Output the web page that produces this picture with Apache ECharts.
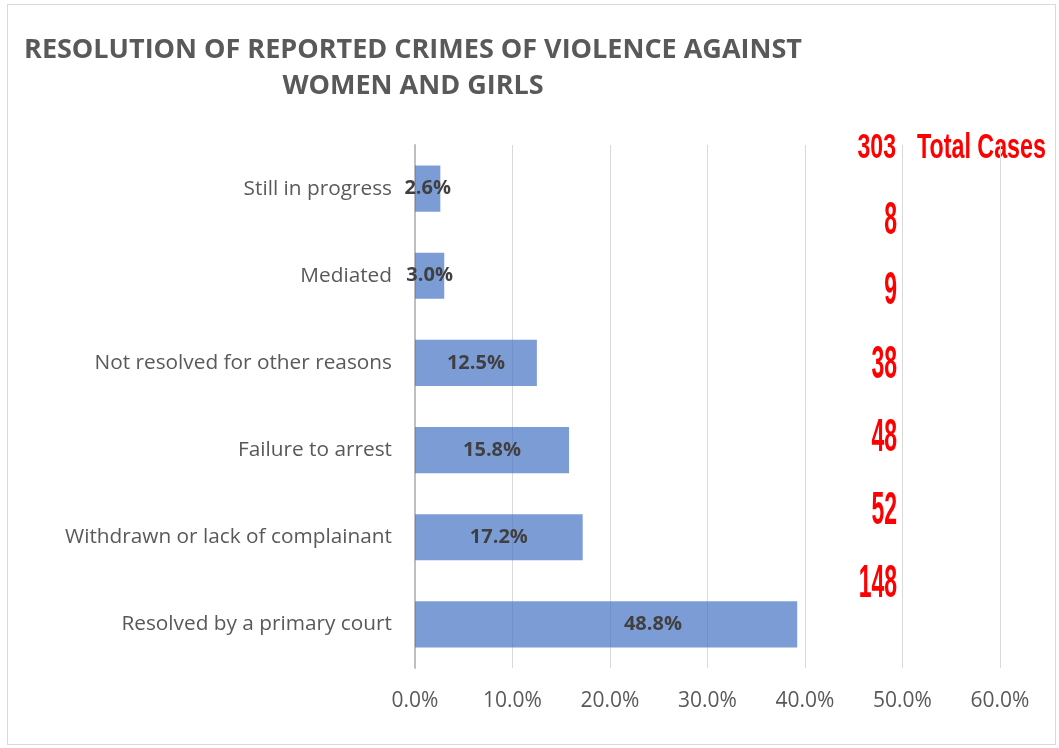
<!DOCTYPE html>
<html>
<head>
<meta charset="utf-8">
<script src="https://cdn.jsdelivr.net/npm/echarts@6/dist/echarts.min.js"></script>
<style>
html,body{margin:0;padding:0;background:#fff;}
#frame{position:absolute;left:7px;top:4px;width:1049px;height:741px;border:1px solid #d9d9d9;box-sizing:border-box;}
#chart{position:absolute;left:0;top:0;width:1059px;height:748px;}
</style>
</head>
<body>
<div id="frame"></div>
<div id="chart"></div>
<script>
// ---- data (bottom to top, as drawn) ----
const categories = ['Resolved by a primary court', 'Withdrawn or lack of complainant', 'Failure to arrest',
  'Not resolved for other reasons', 'Mediated', 'Still in progress'];
const caseCounts = [148, 52, 48, 38, 9, 8];
const totalCases = 303;
const shares = [48.8, 17.2, 15.8, 12.5, 3.0, 2.6];
// bar lengths as drawn in the picture (percent of axis); the largest bar is drawn cut short of its share
const barLengths = [39.2, 17.2, 15.8, 12.5, 3.0, 2.6];
const xTicks = [0, 10, 20, 30, 40, 50, 60];
const titleLines = ['RESOLUTION OF REPORTED CRIMES OF VIOLENCE AGAINST', 'WOMEN AND GIRLS'];
const totalLabel = 'Total Cases';

const chart = echarts.init(document.getElementById('chart'), null, {renderer: 'canvas'});

// red count annotations, top to bottom
const countYs = [221, 291, 365, 438, 511, 584];
const countsTopDown = caseCounts.slice().reverse();
const redFamily = '"Liberation Sans", Arial, sans-serif';
const graphics = [
  {type: 'text', x: 896, y: 148, scaleX: 0.66, style: {text: String(totalCases), fill: '#ff0000',
    font: 'bold 35px ' + redFamily, textAlign: 'right', textVerticalAlign: 'middle'}},
  {type: 'text', x: 917, y: 148, scaleX: 0.665, style: {text: totalLabel, fill: '#ff0000',
    font: 'bold 35px ' + redFamily, textAlign: 'left', textVerticalAlign: 'middle'}}
];
countsTopDown.forEach((c, i) => {
  graphics.push({type: 'text', x: 897, y: countYs[i], scaleX: 0.5,
    style: {text: String(c), fill: '#ff0000', font: 'bold 46px ' + redFamily, textAlign: 'right', textVerticalAlign: 'middle'}});
});

chart.setOption({
  animation: false,
  title: {
    text: titleLines.join('\n'),
    left: 408, top: 27, textAlign: 'center',
    textStyle: {fontFamily: '"Open Sans", sans-serif', fontWeight: 'bold', fontSize: 27, color: '#595959', lineHeight: 36}
  },
  grid: {left: 415, right: 59, top: 145, bottom: 80, containLabel: false},
  xAxis: {
    type: 'value', min: 0, max: 60, interval: 10,
    axisLine: {show: false}, axisTick: {show: false},
    splitLine: {show: true, lineStyle: {color: '#d9d9d9', width: 1}},
    axisLabel: {
      margin: 23, color: '#595959', fontSize: 21, fontFamily: '"Open Sans", sans-serif',
      formatter: v => xTicks.includes(v) ? v.toFixed(1) + '%' : ''
    }
  },
  yAxis: {
    type: 'category', data: categories,
    axisLine: {show: true, lineStyle: {color: '#bfbfbf', width: 2}},
    axisTick: {show: false},
    axisLabel: {margin: 23, color: '#595959', fontSize: 20.8, fontFamily: '"Open Sans", sans-serif'}
  },
  series: [{
    name: 'drawn', type: 'bar', data: barLengths, barWidth: '53%',
    itemStyle: {color: '#4472c4', opacity: 0.7}, z: 2
  }, {
    name: 'share', type: 'bar', data: shares, barWidth: '53%', barGap: '-100%',
    itemStyle: {color: 'rgba(0,0,0,0)'}, z: 3,
    label: {
      show: true, position: 'inside', color: '#404040', fontWeight: 'bold', fontSize: 20,
      fontFamily: '"Open Sans", sans-serif',
      formatter: p => p.value.toFixed(1) + '%'
    }
  }],
  graphic: graphics
});
</script>
</body>
</html>
